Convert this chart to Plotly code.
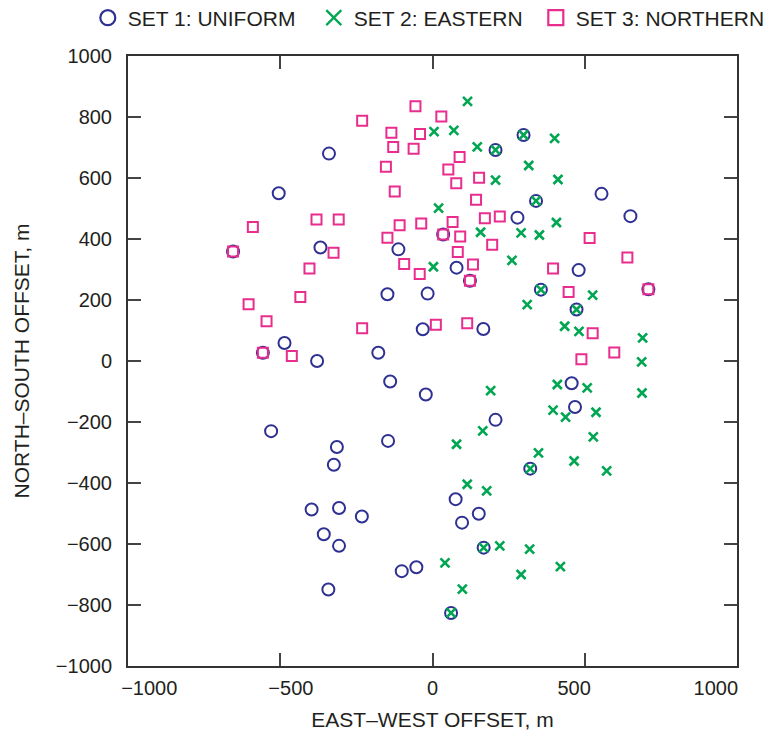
import plotly.graph_objects as go

# Station offsets in metres: east-west (x) and north-south (y)
set1_x = [-505, -340, -368, -112, 207, 299, 279, 555, 340, 650, 35, -486, -557, -379,
          -530, 79, 123, -148, -16, -32, 167, -178, -139, -22, 207, -146, -314, 480,
          356, 473, 457, 468, -397, -324, 76, -307, -232, 152, 97, -357, -307, 168,
          -101, -53, -342, 61, 321, -655, 709]
set1_y = [550, 680, 372, 366, 692, 741, 470, 548, 525, 475, 415, 59, 27, 0,
          -230, 306, 263, 219, 221, 104, 105, 27, -67, -110, -193, -262, -282, 298,
          234, 169, -73, -151, -487, -340, -453, -482, -510, -501, -530, -568, -606, -612,
          -689, -676, -749, -826, -353, 359, 235]

set2_x = [115, 5, 70, 147, 207, 207, 20, 158, 299, 401, 316, 412, 340, 407, 291, 351,
          261, 3, 356, 526, 311, 473, 434, 481, 690, 687, 410, 508, 688, 396, 437, 537,
          528, 348, 465, 572, 321, 191, 165, 79, 114, 178, 168, 221, 41, 98, 61, 319,
          420, 291]
set2_y = [851, 752, 756, 702, 692, 593, 501, 422, 741, 730, 641, 595, 525, 454, 420, 413,
          330, 309, 234, 216, 185, 169, 114, 97, 76, -3, -77, -88, -105, -161, -184, -168,
          -249, -301, -328, -360, -353, -97, -229, -273, -404, -426, -612, -606, -662, -748,
          -826, -617, -674, -700]

set3_x = [-56, 29, -231, -135, -41, -129, -62, 89, -153, 52, 78, 153, -124, 143, -381,
          -308, 66, 172, 221, -108, -37, 35, 91, -148, -325, 196, 83, -590, -655, -404,
          -434, -604, -545, -557, -462, -93, -42, 133, 123, -231, 11, 114, 516, 640, 396,
          447, 709, 526, 597, 489]
set3_y = [835, 802, 788, 748, 744, 702, 696, 669, 637, 628, 583, 601, 556, 529, 464,
          464, 456, 468, 474, 445, 451, 415, 408, 404, 355, 381, 357, 439, 359, 303,
          210, 186, 130, 27, 16, 318, 285, 316, 263, 107, 119, 124, 403, 339, 303,
          226, 235, 91, 28, 6]

names = ["SET 1: UNIFORM", "SET 2: EASTERN", "SET 3: NORTHERN"]
tick_x = [-1000, -500, 0, 500, 1000]
tick_y = [-1000, -800, -600, -400, -200, 0, 200, 400, 600, 800, 1000]

NAVY = "#2E3192"
GREEN = "#00A651"
MAGENTA = "#E92D8E"
INK = "#231F20"
FONT = "Liberation Sans, Arial, sans-serif"

fig = go.Figure()

# Data markers (legend entries are drawn by separate, larger key traces)
fig.add_trace(go.Scatter(
    x=set1_x, y=set1_y, mode="markers", showlegend=False,
    marker=dict(symbol="circle-open", size=12, color=NAVY, line=dict(width=2, color=NAVY)),
))
fig.add_trace(go.Scatter(
    x=set2_x, y=set2_y, mode="markers", showlegend=False,
    marker=dict(symbol="x-thin-open", size=9, color=GREEN, line=dict(width=2.6, color=GREEN)),
))
fig.add_trace(go.Scatter(
    x=set3_x, y=set3_y, mode="markers", showlegend=False,
    marker=dict(symbol="square-open", size=10, color=MAGENTA, line=dict(width=2, color=MAGENTA)),
))

# Legend keys
fig.add_trace(go.Scatter(
    x=[None], y=[None], mode="markers", name=names[0], legendwidth=181,
    marker=dict(symbol="circle-open", size=15, color=NAVY, line=dict(width=2.2, color=NAVY)),
))
fig.add_trace(go.Scatter(
    x=[None], y=[None], mode="markers", name=names[1], legendwidth=177,
    marker=dict(symbol="x-thin-open", size=15, color=GREEN, line=dict(width=2.2, color=GREEN)),
))
fig.add_trace(go.Scatter(
    x=[None], y=[None], mode="markers", name=names[2],
    marker=dict(symbol="square-open", size=15, color=MAGENTA, line=dict(width=2.2, color=MAGENTA)),
))

# Empty trace that keeps the label axis x2 attached to the plot
fig.add_trace(go.Scatter(x=[None], y=[None], xaxis="x2", showlegend=False, hoverinfo="skip"))

frame = dict(
    showgrid=False, zeroline=False,
    showline=True, linecolor="#333333", linewidth=2, mirror="ticks",
    ticks="inside", ticklen=13, tickwidth=1.5, tickcolor="#444444",
)

# Bottom axis: frame and tick marks
fig.update_layout(xaxis=dict(
    range=[-1000, 1000], tickmode="array", tickvals=tick_x,
    showticklabels=False, **frame,
))
# Label axis for the east-west numbers, set slightly inside the frame
fig.update_layout(xaxis2=dict(
    overlaying="x", anchor="y", side="bottom",
    range=[-1075, 1075], tickmode="array", tickvals=tick_x,
    showgrid=False, zeroline=False, showline=False, ticks="",
    ticklabelstandoff=8,
    tickfont=dict(family=FONT, size=20, color=INK),
    title=dict(text="EAST\u2013WEST OFFSET, m", standoff=14,
               font=dict(family=FONT, size=21, color=INK)),
))
fig.update_yaxes(
    range=[-1000, 1000], tickmode="array", tickvals=tick_y,
    ticklabelstandoff=10,
    tickfont=dict(family=FONT, size=20, color=INK),
    title=dict(text="NORTH\u2013SOUTH OFFSET, m", standoff=20,
               font=dict(family=FONT, size=21, color=INK)),
    **frame,
)

fig.update_layout(
    width=767, height=740,
    margin=dict(l=128, r=30, t=56, b=74, autoexpand=False),
    plot_bgcolor="white", paper_bgcolor="white",
    font=dict(family=FONT, size=20, color=INK),
    legend=dict(
        orientation="h", xref="paper", yref="paper",
        x=-0.066, xanchor="left", y=1.0959, yanchor="top",
        font=dict(family=FONT, size=21, color=INK),
        bgcolor="rgba(0,0,0,0)", borderwidth=0,
    ),
)

fig.write_html("out.html")
